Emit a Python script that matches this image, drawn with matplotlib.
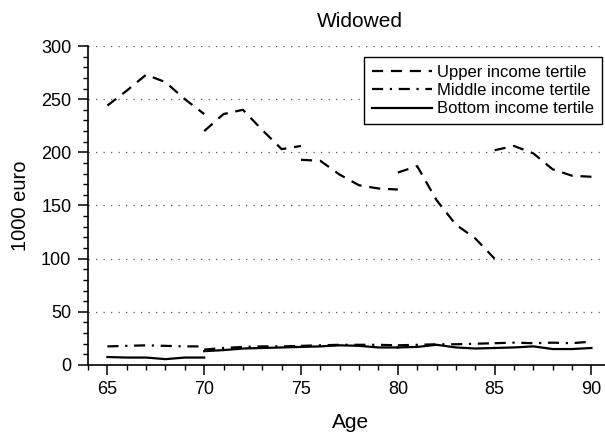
import numpy as np
import matplotlib
matplotlib.use("Agg")
import matplotlib.pyplot as plt
from matplotlib.ticker import MultipleLocator

plt.rcParams["font.family"] = ["Liberation Sans", "DejaVu Sans"]

# each age group (65-70, 70-75, ...) is drawn as its own piece
group_starts = [65, 70, 75, 80, 85]

upper_tertile = [
    [244, 258, 273, 266, 250, 236],
    [220, 236, 240, 221, 203, 206],
    [193, 192, 179, 169, 166, 165],
    [181, 187, 155, 132, 119, 100],
    [202, 206, 199, 184, 178, 177],
]
middle_tertile = [
    [17.5, 18.0, 18.5, 18.0, 17.5, 17.5],
    [14.5, 16.0, 17.0, 17.5, 17.5, 18.0],
    [18.0, 18.5, 19.0, 19.0, 19.0, 18.5],
    [18.5, 19.0, 19.5, 19.5, 20.0, 20.5],
    [20.5, 21.0, 20.5, 21.0, 20.5, 22.0],
]
bottom_tertile = [
    [7.5, 7.0, 7.0, 5.5, 7.0, 7.0],
    [13.0, 14.0, 15.5, 16.0, 16.5, 17.0],
    [17.0, 17.5, 18.5, 18.0, 16.5, 16.5],
    [16.5, 17.0, 19.0, 16.5, 15.5, 16.0],
    [16.0, 16.5, 17.5, 15.0, 15.0, 16.0],
]

series = [
    ("Upper income tertile", upper_tertile, (0, (5, 3.5))),
    ("Middle income tertile", middle_tertile, (0, (5, 3, 1, 3))),
    ("Bottom income tertile", bottom_tertile, "-"),
]

fig = plt.figure(figsize=(6.05, 4.34), dpi=100)
ax = fig.add_axes([0.1455, 0.159, 0.8545, 0.735])

for label, groups, ls in series:
    for i, start in enumerate(group_starts):
        ages = np.arange(start, start + len(groups[i]))
        ax.plot(ages, groups[i], color="black", lw=1.6, linestyle=ls,
                label=label if i == 0 else None)

ax.set_xlim(64, 90.7)
ax.set_ylim(0, 300)
ax.xaxis.set_major_locator(MultipleLocator(5))
ax.xaxis.set_minor_locator(MultipleLocator(1))
ax.yaxis.set_major_locator(MultipleLocator(50))
ax.yaxis.set_minor_locator(MultipleLocator(10))

ax.spines["top"].set_visible(False)
ax.spines["right"].set_visible(False)
ax.spines["left"].set_linewidth(1.2)
ax.spines["bottom"].set_linewidth(1.2)
ax.tick_params(which="major", length=7, width=1.1, labelsize=13, direction="out")
ax.tick_params(which="minor", length=3.5, width=1.0, direction="out")
ax.tick_params(axis="x", which="major", pad=4.5)
ax.tick_params(axis="y", which="major", pad=5)

ax.yaxis.grid(True, which="major", linestyle=(0, (1, 5)), color="0.35", lw=0.9)
ax.set_axisbelow(True)

# title and x label sit a bit right of the axes centre in the original
fig.text(360 / 605, 1 - 27 / 434, "Widowed", fontsize=15, ha="center", va="baseline")
fig.text(351 / 605, 1 - 428 / 434, "Age", fontsize=15, ha="center", va="baseline")
ax.set_ylabel("1000 euro", fontsize=14.5, labelpad=8)

leg = ax.legend(loc="upper right", bbox_to_anchor=(0.994, 0.965), fontsize=12,
                handlelength=3.6, fancybox=False, framealpha=1,
                edgecolor="black", borderpad=0.45, labelspacing=0.2,
                handletextpad=0.35, borderaxespad=0)
leg.get_frame().set_linewidth(1.0)

fig.savefig("out.png", dpi=100)
